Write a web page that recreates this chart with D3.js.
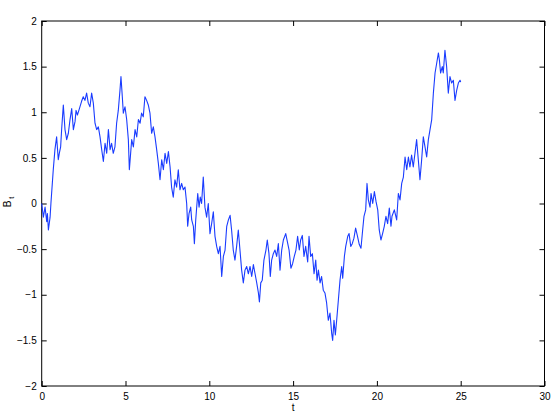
<!DOCTYPE html>
<html>
<head>
<meta charset="utf-8">
<script src="https://cdn.jsdelivr.net/npm/d3@7"></script>
<style>
	body { margin: 0; background: #fff; }
	svg { display: block; }
	text { font-family: "Liberation Sans", Arial, sans-serif; font-size: 10px; fill: #000; }
</style>
</head>
<body>
<div id="chart"></div>
<script>
var width = 554,
	height = 415;

var margin = { left: 41.7, right: 9.5, top: 21, bottom: 29 };

// path, t and B(t)
var tVals = [0.00, 0.10, 0.20, 0.30, 0.34, 0.40, 0.50, 0.55, 0.69, 0.79, 0.89, 0.99, 1.05, 1.13, 1.19, 1.29, 1.39, 1.49, 1.59, 1.69,
	1.79, 1.89, 1.99, 2.05, 2.13, 2.25, 2.38, 2.48, 2.58, 2.68, 2.78, 2.88, 2.98, 3.08, 3.18, 3.28, 3.38, 3.48, 3.58, 3.68,
	3.78, 3.88, 3.98, 4.08, 4.17, 4.27, 4.37, 4.47, 4.57, 4.67, 4.73, 4.81, 4.87, 4.97, 5.07, 5.17, 5.23, 5.37, 5.47, 5.57,
	5.67, 5.77, 5.87, 5.96, 6.06, 6.16, 6.26, 6.36, 6.46, 6.56, 6.66, 6.76, 6.86, 6.96, 7.06, 7.16, 7.26, 7.36, 7.46, 7.56,
	7.66, 7.75, 7.85, 7.95, 8.05, 8.15, 8.25, 8.35, 8.45, 8.55, 8.65, 8.71, 8.79, 8.89, 8.95, 9.05, 9.11, 9.19, 9.31, 9.39,
	9.46, 9.54, 9.64, 9.74, 9.84, 9.94, 10.04, 10.14, 10.24, 10.34, 10.44, 10.54, 10.64, 10.74, 10.84, 10.94, 11.04, 11.14, 11.24, 11.33,
	11.43, 11.53, 11.63, 11.73, 11.83, 11.93, 12.03, 12.13, 12.23, 12.33, 12.43, 12.53, 12.63, 12.73, 12.83, 12.93, 12.99, 13.07, 13.16, 13.26,
	13.38, 13.46, 13.56, 13.64, 13.72, 13.82, 13.92, 14.02, 14.12, 14.22, 14.32, 14.42, 14.56, 14.66, 14.76, 14.87, 14.97, 15.07, 15.17, 15.27,
	15.37, 15.45, 15.55, 15.65, 15.75, 15.87, 15.95, 16.05, 16.15, 16.25, 16.35, 16.43, 16.51, 16.61, 16.70, 16.80, 16.90, 17.00, 17.10, 17.20,
	17.30, 17.36, 17.44, 17.52, 17.60, 17.70, 17.80, 17.90, 17.96, 18.06, 18.14, 18.26, 18.34, 18.44, 18.53, 18.63, 18.73, 18.83, 18.95, 19.05,
	19.15, 19.23, 19.33, 19.41, 19.49, 19.59, 19.65, 19.75, 19.85, 19.95, 20.05, 20.14, 20.24, 20.34, 20.44, 20.54, 20.64, 20.74, 20.84, 20.90,
	21.04, 21.18, 21.28, 21.38, 21.48, 21.58, 21.68, 21.78, 21.88, 21.97, 22.07, 22.17, 22.27, 22.37, 22.47, 22.57, 22.67, 22.77, 22.87, 22.97,
	23.07, 23.17, 23.27, 23.37, 23.47, 23.57, 23.67, 23.73, 23.80, 23.90, 23.96, 24.06, 24.16, 24.26, 24.36, 24.46, 24.56, 24.66, 24.76, 24.86,
	24.96, 25.00];

var bVals = [0.00, -0.15, -0.04, -0.20, -0.11, -0.29, -0.15, 0.00, 0.37, 0.59, 0.73, 0.48, 0.55, 0.62, 0.81, 1.08, 0.81, 0.70, 0.77, 0.92,
	1.04, 0.81, 0.90, 1.02, 0.97, 1.04, 1.12, 1.17, 1.13, 1.21, 1.10, 1.06, 1.21, 1.10, 0.88, 0.81, 0.84, 0.73, 0.59, 0.46,
	0.66, 0.55, 0.81, 0.59, 0.66, 0.55, 0.62, 0.88, 1.02, 1.24, 1.39, 1.17, 0.99, 1.06, 0.92, 0.70, 0.37, 0.70, 0.62, 0.81,
	0.73, 0.92, 0.88, 0.99, 0.95, 1.17, 1.13, 1.08, 0.99, 0.77, 0.84, 0.73, 0.59, 0.44, 0.26, 0.48, 0.37, 0.55, 0.44, 0.57,
	0.40, 0.18, 0.07, 0.26, 0.18, 0.37, 0.15, 0.22, 0.15, 0.18, 0.00, -0.25, -0.11, -0.04, -0.18, -0.25, -0.44, -0.18, 0.11, -0.04,
	0.07, 0.00, 0.29, -0.04, -0.15, 0.00, -0.33, -0.22, -0.09, -0.36, -0.47, -0.55, -0.47, -0.80, -0.58, -0.51, -0.25, -0.18, -0.13, -0.29,
	-0.51, -0.62, -0.47, -0.29, -0.51, -0.73, -0.87, -0.73, -0.69, -0.77, -0.69, -0.80, -0.67, -0.77, -0.87, -0.98, -1.08, -0.87, -0.84, -0.62,
	-0.51, -0.40, -0.55, -0.80, -0.62, -0.55, -0.51, -0.58, -0.44, -0.73, -0.51, -0.40, -0.33, -0.42, -0.51, -0.71, -0.66, -0.58, -0.51, -0.36,
	-0.51, -0.40, -0.35, -0.58, -0.47, -0.64, -0.36, -0.58, -0.55, -0.77, -0.62, -0.84, -0.73, -0.87, -0.80, -0.95, -0.98, -1.09, -1.28, -1.20,
	-1.42, -1.50, -1.28, -1.44, -1.28, -1.06, -0.84, -0.69, -0.82, -0.58, -0.47, -0.36, -0.33, -0.47, -0.44, -0.38, -0.27, -0.35, -0.45, -0.49,
	-0.29, -0.14, -0.07, 0.22, 0.04, -0.04, 0.11, 0.00, 0.13, 0.02, -0.07, -0.29, -0.40, -0.33, -0.25, -0.14, -0.22, -0.05, -0.25, -0.14,
	-0.07, -0.18, 0.11, 0.04, 0.22, 0.29, 0.51, 0.37, 0.51, 0.40, 0.53, 0.40, 0.55, 0.70, 0.48, 0.26, 0.48, 0.73, 0.62, 0.51,
	0.70, 0.81, 0.92, 1.21, 1.43, 1.54, 1.65, 1.57, 1.43, 1.50, 1.43, 1.68, 1.50, 1.21, 1.39, 1.32, 1.35, 1.13, 1.24, 1.32,
	1.35, 1.33];

var xTicks = [0, 5, 10, 15, 20, 25, 30];
var yTicks = [-2, -1.5, -1, -0.5, 0, 0.5, 1, 1.5, 2];

var svg = d3.select("#chart").append("svg")
	.attr("width", width)
	.attr("height", height);

var x = d3.scaleLinear().domain([0, 30]).range([margin.left, width - margin.right]),
	y = d3.scaleLinear().domain([-2, 2]).range([height - margin.bottom, margin.top]);

var fmt = function (d) { return String(d).replace("-", "\u2212"); };

// matlab style: ticks point inwards on all four sides
var xAxisB = d3.axisBottom(x).tickValues(xTicks).tickSize(-5).tickPadding(7).tickFormat(fmt),
	xAxisT = d3.axisTop(x).tickValues(xTicks).tickSize(-5).tickFormat(""),
	yAxisL = d3.axisLeft(y).tickValues(yTicks).tickSize(-5).tickPadding(5).tickFormat(fmt),
	yAxisR = d3.axisRight(y).tickValues(yTicks).tickSize(-5).tickFormat("");

var gXB = svg.append("g").attr("transform", "translate(0," + y(-2) + ")").call(xAxisB),
	gXT = svg.append("g").attr("transform", "translate(0," + y(2) + ")").call(xAxisT),
	gYL = svg.append("g").attr("transform", "translate(" + x(0) + ",0)").call(yAxisL),
	gYR = svg.append("g").attr("transform", "translate(" + x(30) + ",0)").call(yAxisR);

[gXB, gXT, gYL, gYR].forEach(function (g) {
	g.select(".domain").remove();
	g.selectAll(".tick line").attr("stroke", "#000");
	g.selectAll(".tick text").attr("font-size", 10).attr("font-family", "Liberation Sans, Arial, sans-serif").attr("fill", "#000");
});

svg.append("rect")
	.attr("x", x(0))
	.attr("y", y(2))
	.attr("width", x(30) - x(0))
	.attr("height", y(-2) - y(2))
	.attr("fill", "none")
	.attr("stroke", "#000")
	.attr("stroke-width", 1);

var line = d3.line()
	.x(function (d) { return x(d[0]); })
	.y(function (d) { return y(d[1]); });

svg.append("path")
	.datum(d3.zip(tVals, bVals))
	.attr("d", line)
	.attr("fill", "none")
	.attr("stroke", "#1a3cff")
	.attr("stroke-width", 1.1)
	.attr("stroke-linejoin", "round");

svg.append("text")
	.attr("x", (x(0) + x(30)) / 2)
	.attr("y", 411)
	.attr("text-anchor", "middle")
	.text("t");

var yl = svg.append("text")
	.attr("transform", "translate(10.5,202) rotate(-90)")
	.attr("text-anchor", "middle");
yl.append("tspan").text("B");
yl.append("tspan").attr("dy", 3).attr("dx", 2).attr("font-size", 7).text("t");
</script>
</body>
</html>
